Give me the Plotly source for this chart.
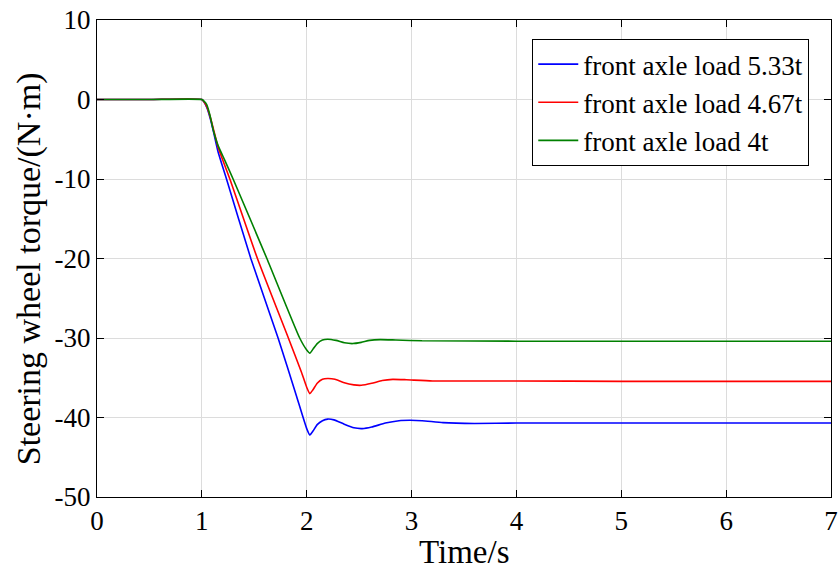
import plotly.graph_objects as go

# time (s) and steering wheel torque (N·m) for each front axle load
t_533 = [0, 0.5, 1.0, 1.02, 1.05, 1.08, 1.11, 1.155, 1.235, 1.467, 1.727, 1.9, 2.0,
         2.03, 2.06, 2.1, 2.15, 2.2, 2.26, 2.35, 2.45, 2.53, 2.62, 2.75, 2.88, 2.98,
         3.1, 3.3, 3.6, 4.0, 5.0, 6.0, 7.0]
y_533 = [0, 0, 0, -0.3, -1.1, -2.4, -4.0, -6.6, -10, -20, -30, -37.2, -41.4,
         -42.2, -41.7, -40.9, -40.4, -40.2, -40.3, -40.8, -41.3, -41.4, -41.2, -40.7, -40.4, -40.35,
         -40.4, -40.65, -40.75, -40.7, -40.7, -40.7, -40.7]

t_467 = [0, 0.5, 1.0, 1.02, 1.05, 1.08, 1.11, 1.155, 1.267, 1.53, 1.825, 1.95, 2.0,
         2.03, 2.06, 2.1, 2.15, 2.2, 2.27, 2.35, 2.45, 2.52, 2.62, 2.72, 2.82, 2.95,
         3.2, 4.0, 5.0, 6.0, 7.0]
y_467 = [0, 0, 0, -0.3, -1.0, -2.2, -3.7, -6.0, -10, -20, -30, -34.3, -36.2,
         -37.0, -36.5, -35.7, -35.2, -35.1, -35.2, -35.6, -35.9, -35.95, -35.7, -35.35, -35.2, -35.25,
         -35.4, -35.4, -35.45, -35.45, -35.45]

t_4 = [0, 0.5, 1.0, 1.02, 1.045, 1.076, 1.108, 1.155, 1.219, 1.298, 1.62, 1.933, 2.0,
       2.03, 2.06, 2.1, 2.15, 2.2, 2.28, 2.36, 2.44, 2.52, 2.6, 2.7, 2.85, 3.1,
       4.0, 5.0, 6.0, 7.0]
y_4 = [0, 0, 0, -0.2, -0.6, -1.9, -3.8, -5.8, -7.65, -10, -20, -30, -31.5,
       -31.9, -31.4, -30.7, -30.25, -30.15, -30.3, -30.6, -30.7, -30.55, -30.3, -30.2, -30.25, -30.35,
       -30.4, -30.4, -30.4, -30.4]

series_names = ["front axle load 5.33t", "front axle load 4.67t", "front axle load 4t"]
series_colors = ["#0000ff", "#ff0000", "#008000"]

x_ticks = [0, 1, 2, 3, 4, 5, 6, 7]
y_ticks = [10, 0, -10, -20, -30, -40, -50]

FONT = "Liberation Serif"

fig = go.Figure()
for t, y, name, color in zip([t_533, t_467, t_4], [y_533, y_467, y_4], series_names, series_colors):
    fig.add_trace(go.Scatter(x=t, y=y, mode="lines", name=name,
                             line=dict(color=color, width=1.6, shape="spline", smoothing=0.5)))

axis_common = dict(showline=True, linecolor="black", linewidth=1, mirror="ticks",
                   ticks="inside", ticklen=7, tickcolor="black", tickwidth=1,
                   showgrid=True, gridcolor="#dcdcdc", gridwidth=1, zeroline=False,
                   automargin=False,
                   tickfont=dict(family=FONT, size=27, color="black"))

fig.update_xaxes(range=[0, 7], tickvals=x_ticks, ticktext=[str(v) for v in x_ticks], **axis_common)
fig.update_yaxes(range=[-50, 10], tickvals=y_ticks, ticktext=[str(v) for v in y_ticks], **axis_common)

fig.update_layout(
    width=839, height=574,
    margin=dict(l=97, r=8, t=20, b=77),
    plot_bgcolor="white", paper_bgcolor="white",
    font=dict(family=FONT, color="black"),
    legend=dict(x=0.593, y=0.96, xanchor="left", yanchor="top",
                bgcolor="white", bordercolor="black", borderwidth=1,
                font=dict(family=FONT, size=27, color="black"),
                tracegroupgap=0, itemwidth=40),
    annotations=[
        dict(text="Time/s", x=0.5, y=-0.157, xref="paper", yref="paper",
             xanchor="center", yanchor="bottom", showarrow=False,
             font=dict(family=FONT, size=33, color="black")),
        dict(text="Steering wheel torque/(N·m)", x=-0.093, y=0.479, xref="paper", yref="paper",
             xanchor="center", yanchor="middle", textangle=-90, showarrow=False,
             font=dict(family=FONT, size=34, color="black")),
    ],
)

fig.write_html("out.html", config={"displayModeBar": False},
               post_script="document.body.style.margin='0';document.body.style.overflow='hidden';")
